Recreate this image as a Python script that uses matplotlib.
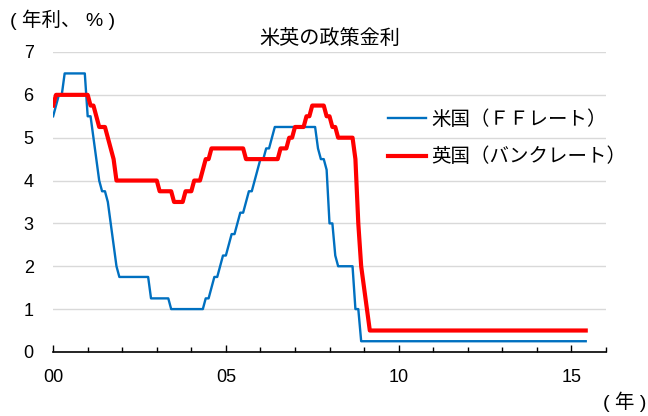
import matplotlib
matplotlib.use("Agg")
import matplotlib.pyplot as plt
import numpy as np

plt.rcParams["font.family"] = ["Liberation Sans", "Noto Sans CJK JP"]

# monthly policy rates, Jan 2000 - Jun 2015 (end of month, %)
us_rate = (
    [5.5, 5.75, 6.0, 6.0, 6.5, 6.5, 6.5, 6.5, 6.5, 6.5, 6.5, 6.5]          # 2000
    + [5.5, 5.5, 5.0, 4.5, 4.0, 3.75, 3.75, 3.5, 3.0, 2.5, 2.0, 1.75]     # 2001
    + [1.75] * 10 + [1.25, 1.25]                                          # 2002
    + [1.25] * 5 + [1.0] * 7                                              # 2003
    + [1.0] * 5 + [1.25, 1.25, 1.5, 1.75, 1.75, 2.0, 2.25]                # 2004
    + [2.25, 2.5, 2.75, 2.75, 3.0, 3.25, 3.25, 3.5, 3.75, 3.75, 4.0, 4.25]  # 2005
    + [4.5, 4.5, 4.75, 4.75, 5.0, 5.25] + [5.25] * 6                      # 2006
    + [5.25] * 8 + [4.75, 4.5, 4.5, 4.25]                                 # 2007
    + [3.0, 3.0, 2.25, 2.0, 2.0, 2.0, 2.0, 2.0, 2.0, 1.0, 1.0, 0.25]      # 2008
    + [0.25] * 72                                                         # 2009-2014
    + [0.25] * 6                                                          # 2015
)

uk_rate = (
    [5.75] + [6.0] * 11                                                   # 2000
    + [6.0, 5.75, 5.75, 5.5, 5.25, 5.25, 5.25, 5.0, 4.75, 4.5, 4.0, 4.0]  # 2001
    + [4.0] * 12                                                          # 2002
    + [4.0] + [3.75] * 5 + [3.5] * 4 + [3.75, 3.75]                       # 2003
    + [3.75, 4.0, 4.0, 4.0, 4.25, 4.5, 4.5] + [4.75] * 5                  # 2004
    + [4.75] * 7 + [4.5] * 5                                              # 2005
    + [4.5] * 7 + [4.75, 4.75, 4.75, 5.0, 5.0]                            # 2006
    + [5.25] * 4 + [5.5, 5.5] + [5.75] * 5 + [5.5]                        # 2007
    + [5.5, 5.25, 5.25] + [5.0] * 6 + [4.5, 3.0, 2.0]                     # 2008
    + [1.5, 1.0] + [0.5] * 10                                             # 2009
    + [0.5] * 60                                                          # 2010-2014
    + [0.5] * 6                                                           # 2015
)

years = np.arange(len(us_rate)) / 12
x_ticks = [0, 5, 10, 15]
x_labels = ["00", "05", "10", "15"]
y_ticks = [0, 1, 2, 3, 4, 5, 6, 7]

fig = plt.figure(figsize=(6.48, 4.16), dpi=100)
ax = fig.add_axes([0.082, 0.154, 0.853, 0.721])

ax.plot(years, us_rate, color="#0070C0", lw=1.7, label="米国（ＦＦレート）", zorder=3)
ax.plot(years, uk_rate, color="#FF0000", lw=3.0, label="英国（バンクレート）", zorder=4)

ax.set_xlim(0, 16)
ax.set_ylim(0, 7)

ax.set_xticks(x_ticks)
ax.set_xticklabels(x_labels)
ax.set_xticks(range(0, 17), minor=True)
ax.tick_params(axis="x", which="major", direction="in", length=5, width=1,
               labelsize=13, pad=12)
ax.tick_params(axis="x", which="minor", direction="in", length=3.5, width=1)
ax.set_yticks(y_ticks)
ax.tick_params(axis="y", length=0, labelsize=13, pad=14)

ax.grid(axis="y", color="#D9D9D9", lw=1)
ax.set_axisbelow(True)
for side in ["top", "right", "left"]:
    ax.spines[side].set_visible(False)
ax.spines["bottom"].set_color("black")
ax.spines["bottom"].set_linewidth(1.2)
ax.spines["bottom"].set_zorder(5)

ax.set_title("米英の政策金利", fontsize=14.5, pad=6, family=["Noto Sans CJK JP"])
fig.text(0.016, 0.952, "( 年利、 % )", fontsize=14, va="center")
fig.text(0.998, 0.035, "( 年 )", fontsize=14, va="center", ha="right")

ax.legend(loc="center left", bbox_to_anchor=(0.605, 0.713), frameon=False,
          handlelength=2.0, handletextpad=0.25, labelspacing=0.85,
          borderpad=0, borderaxespad=0,
          prop={"family": "Noto Sans CJK JP", "size": 14})

plt.savefig("out.png")
